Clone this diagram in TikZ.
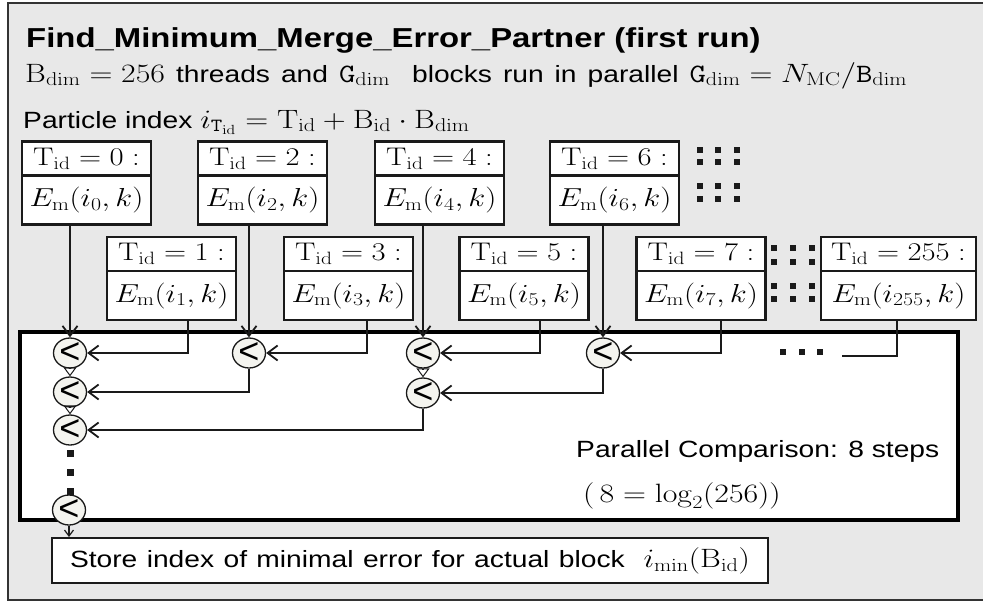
\RequirePackage{fix-cm}
\documentclass[tikz,border=0pt]{standalone}
\usepackage[no-math]{fontspec}
\setmainfont{Liberation Sans}
\usepackage{graphicx}
\usetikzlibrary{arrows.meta,shapes.geometric}

\definecolor{panel}{HTML}{E8E8E8}
\definecolor{ink}{HTML}{1A1A1A}
\definecolor{framec}{HTML}{333333}
\definecolor{cmpfill}{HTML}{F4F4EF}

% text is set slightly wider than its natural shape
\newcommand{\wide}[1]{\scalebox{1.2}[1]{#1}}
\newcommand{\us}{\char"5F\relax}
% inline formulas are set a little larger than the sans text around them
\newcommand{\fm}[1]{\mbox{\fontsize{26.5}{30}\selectfont$#1$}}

\begin{document}
\begin{tikzpicture}[x=1pt,y=-1pt,
  sansfont/.style={font=\fontsize{23.5}{28}\selectfont},
  hdr/.style={draw=ink,line width=2.4pt,fill=white,inner sep=0pt,
    minimum width=129pt,minimum height=34pt,font=\fontsize{25.5}{30}\selectfont},
  val/.style={draw=ink,line width=2.4pt,fill=white,inner sep=0pt,
    minimum width=129pt,minimum height=49pt,font=\fontsize{26}{30}\selectfont},
  cmp/.style={ellipse,draw=ink,line width=1.3pt,fill=cmpfill,inner sep=0pt,
    minimum width=33pt,minimum height=30pt,font=\fontsize{36}{36}\selectfont},
  link/.style={draw=ink,line width=1.2pt},
  barb/.style={-{Straight Barb[length=10pt,width=15pt,line width=1.8pt]}},
  barbsmall/.style={-{Straight Barb[length=6pt,width=9pt,line width=1.2pt]}},
  tri/.style={-{Triangle[open,length=9pt,width=13pt,line width=1pt]}},
  sq/.style={fill=ink}
]
\useasboundingbox (0,0) rectangle (983,603);
\clip (0,0) rectangle (983,603);

% outer panel
\draw[fill=panel,draw=framec,line width=2pt] (8,3) rectangle (1000,600);

% headings
\node[anchor=base west,inner sep=0pt,font=\fontsize{27.4}{30}\selectfont\bfseries] (title) at (26,47)
  {\wide{Find\us Minimum\us Merge\us Error\us Partner (first run)}};
\node[anchor=base west,inner sep=0pt,sansfont] (grid) at (25,82)
  {\wide{\makebox[735pt][s]{\fm{\mathrm{B}_{\mathrm{dim}}=256} threads and \fm{\mathtt{G}_{\mathrm{dim}}}\ \ blocks\ run in parallel \fm{\mathtt{G}_{\mathrm{dim}}=N_{\mathrm{MC}}/\mathtt{B}_{\mathrm{dim}}}}}};
\node[anchor=base west,inner sep=0pt,sansfont] (pidx) at (23,128)
  {\wide{Particle index \fm{i_{\mathtt{T}_{\mathrm{id}}}=\mathrm{T}_{\mathrm{id}}+\mathrm{B}_{\mathrm{id}}\cdot\mathrm{B}_{\mathrm{dim}}}}};

% thread boxes, first row
\foreach \n/\x in {0/86.5,2/262.5,4/439.5,6/614.5}{
  \node[hdr] (h\n) at (\x,158.5) {\wide{$\mathrm{T}_{\mathrm{id}}=\n:$}};
  \node[val] (e\n) at (\x,200) {\wide{$E_{\mathrm{m}}(i_{\n},k)$}};
}
% thread boxes, second row
\foreach \n/\x in {1/171.5,3/348.5,5/524,7/701}{
  \node[hdr] (h\n) at (\x,254) {\wide{$\mathrm{T}_{\mathrm{id}}=\n:$}};
  \node[val] (e\n) at (\x,295.5) {\wide{$E_{\mathrm{m}}(i_{\n},k)$}};
}
\node[hdr,minimum width=155pt] (h255) at (898.5,254) {\wide{$\mathrm{T}_{\mathrm{id}}=255:$}};
\node[val,minimum width=155pt] (e255) at (898.5,295.5) {\wide{$E_{\mathrm{m}}(i_{255},k)$}};

% ellipsis squares between the boxes
\foreach \x in {700,718,737}{
  \foreach \y in {150,162,186,199}{
    \fill[sq] (\x-3.2,\y-3.2) rectangle (\x+3.2,\y+3.2);
  }
}
\foreach \x in {774,793,812}{
  \foreach \y in {248,262,286,299}{
    \fill[sq] (\x-3.2,\y-3.2) rectangle (\x+3.2,\y+3.2);
  }
}

% comparison area
\node[draw=black,line width=4pt,fill=white,minimum width=938pt,minimum height=188pt,inner sep=0pt] (par) at (489,426) {};
\node[anchor=base west,inner sep=0pt,sansfont] (steps) at (576,457) {\wide{Parallel Comparison: 8 steps}};
\node[anchor=base west,inner sep=0pt,sansfont] (logn) at (583,502) {\wide{\fm{(\,8=\log_2(256))}}};

% comparators
\node[cmp] (A1) at (70,353) {<};
\node[cmp] (A2) at (70,392) {<};
\node[cmp] (A3) at (70,430) {<};
\node[cmp] (A4) at (69,510) {<};
\node[cmp] (B1) at (249,353) {<};
\node[cmp] (C1) at (423,353) {<};
\node[cmp] (C2) at (423,393) {<};
\node[cmp] (D1) at (603,353) {<};

% result box
\node[draw=ink,line width=2pt,fill=white,minimum width=716pt,minimum height=45pt,
  inner xsep=18pt,inner ysep=0pt,text width=680pt,align=left,sansfont] (store) at (410,560.5)
  {\wide{Store index of minimal error for actual block\ \ \fm{i_{\mathrm{min}}(\mathrm{B}_{\mathrm{id}})}}};

% first row feeds straight down
\draw[link,barb] (e0.south -| A1) -- (A1);
\draw[link,barb] (e2.south -| B1) -- (B1);
\draw[link,barb] (e4.south -| C1) -- (C1);
\draw[link,barb] (e6.south -| D1) -- (D1);
% second row feeds from the side
\draw[link,barb] ([xshift=16.5pt]e1.south) |- (A1);
\draw[link,barb] ([xshift=18.5pt]e3.south) |- (B1);
\draw[link,barb] ([xshift=16pt]e5.south) |- (C1);
\draw[link,barb] ([xshift=20pt]e7.south) |- (D1);
\coordinate (tail) at (842,356);
\draw[link] ([xshift=-1.5pt]e255.south) |- (tail);
\foreach \x in {783,802,820}{
  \fill[sq] (\x-3.2,352-3.2) rectangle (\x+3.2,352+3.2);
}

% reduction tree
\draw[link,barb] (B1) |- (A2);
\draw[link,barb] (D1) |- (C2);
\draw[link,barb] (C2) |- (A3);
\draw[link,tri] (A1) -- (A2);
\draw[link,tri] (A2) -- (A3);
\draw[link,tri] (C1) -- (C2);
\foreach \y in {453,472,491}{
  \fill[sq] (70-3.5,\y-3.5) rectangle (70+3.5,\y+3.5);
}
\draw[link,barbsmall] (A4) -- (A4 |- store.north);
\end{tikzpicture}
\end{document}
